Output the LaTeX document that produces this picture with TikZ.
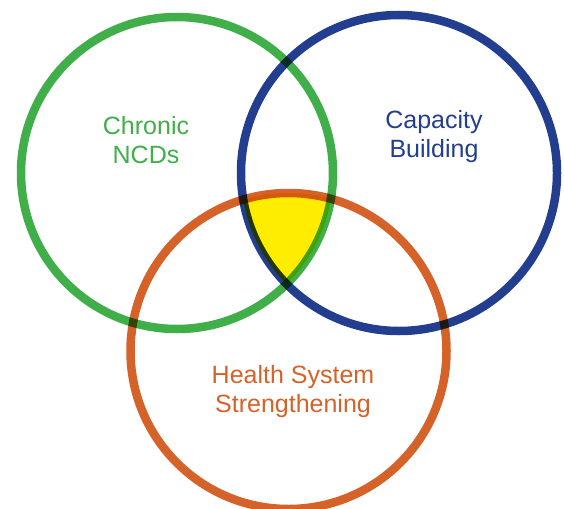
\documentclass[tikz,border=0pt]{standalone}
\usepackage{fontspec}
\setmainfont{Liberation Sans}
\definecolor{ncdgreen}{RGB}{64,174,73}
\definecolor{capblue}{RGB}{35,62,142}
\definecolor{hssorange}{RGB}{213,98,40}
\definecolor{coreyellow}{RGB}{255,237,0}

\begin{document}
\begin{tikzpicture}[x=1pt,y=-1pt,
   ring/.style={line width=8.5pt,blend mode=multiply},
   lbl/.style={align=center,font=\fontsize{25}{29}\selectfont}]
\useasboundingbox (0,0) rectangle (564,508);
\coordinate (ncd) at (177,173);
\coordinate (cap) at (399,173);
\coordinate (hss) at (288.5,351);
% overlap of all three
\begin{scope}
  \clip (ncd) circle (156pt);
  \clip (cap) circle (158pt);
  \fill[coreyellow] (hss) circle (158pt);
\end{scope}
\draw[ring,ncdgreen] (ncd) circle (156pt);
\draw[ring,capblue] (cap) circle (158pt);
\draw[ring,hssorange] (hss) circle (158pt);
\node[lbl,text=ncdgreen] (ncdtext) at (146,140) {Chronic\\NCDs};
\node[lbl,text=capblue] (captext) at (434,137) {Capacity\\Building};
\node[lbl,text=hssorange] (hsstext) at (293,392) {Health System\\Strengthening};
\end{tikzpicture}
\end{document}
